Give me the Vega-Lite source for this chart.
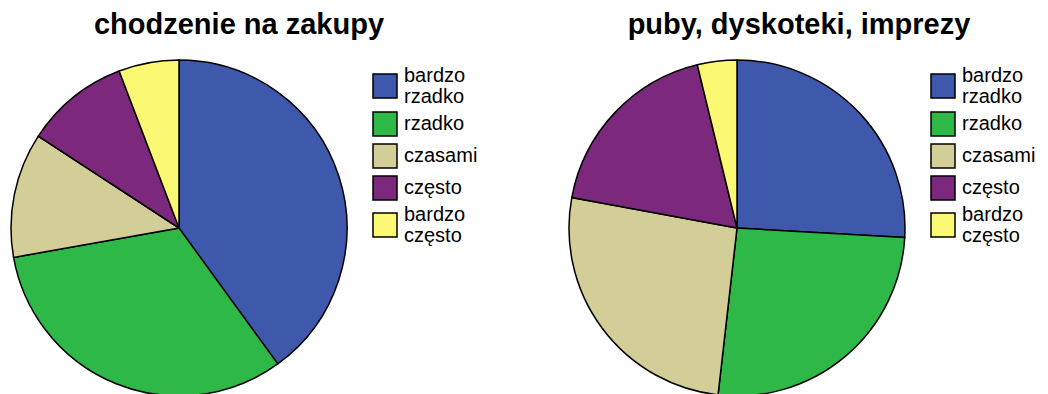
{
  "$schema": "https://vega.github.io/schema/vega-lite/v6.json",
  "background": "white",
  "padding": {"left": 8, "top": 11, "right": 0, "bottom": 0},
  "autosize": {"type": "pad"},
  "datasets": {
    "zakupy": [
      {"odpowiedz": "bardzo rzadko", "kolejnosc": 1, "procent": 40.0},
      {"odpowiedz": "rzadko", "kolejnosc": 2, "procent": 32.2},
      {"odpowiedz": "czasami", "kolejnosc": 3, "procent": 12.0},
      {"odpowiedz": "często", "kolejnosc": 4, "procent": 10.0},
      {"odpowiedz": "bardzo często", "kolejnosc": 5, "procent": 5.8}
    ],
    "puby": [
      {"odpowiedz": "bardzo rzadko", "kolejnosc": 1, "procent": 25.9},
      {"odpowiedz": "rzadko", "kolejnosc": 2, "procent": 25.9},
      {"odpowiedz": "czasami", "kolejnosc": 3, "procent": 26.1},
      {"odpowiedz": "często", "kolejnosc": 4, "procent": 18.3},
      {"odpowiedz": "bardzo często", "kolejnosc": 5, "procent": 3.8}
    ]
  },
  "hconcat": [
    {
      "title": {"text": "chodzenie na zakupy", "dx": -4},
      "data": {"name": "zakupy"},
      "width": 336,
      "height": 336,
      "mark": {"type": "arc", "stroke": "black", "strokeWidth": 1.5},
      "encoding": {
        "theta": {"field": "procent", "type": "quantitative", "stack": true},
        "order": {"field": "kolejnosc", "type": "quantitative"},
        "color": {
          "field": "odpowiedz",
          "type": "nominal",
          "scale": {
            "domain": ["bardzo rzadko", "rzadko", "czasami", "często", "bardzo często"],
            "range": ["#3E58AC", "#2EB848", "#D3CE97", "#7C287D", "#FBF873"]
          },
          "legend": {
            "orient": "none", "legendX": 361, "legendY": 13,
            "labelExpr": "split(datum.label, ' ')",
            "encode": {"labels": {"update": {
              "lineHeight": {"value": 21},
              "dy": {"signal": "indexof(datum.value, ' ') >= 0 ? -10 : 0"}
            }}}
          }
        }
      }
    },
    {
      "title": {"text": "puby, dyskoteki, imprezy", "dx": -2},
      "data": {"name": "puby"},
      "width": 336,
      "height": 336,
      "mark": {"type": "arc", "stroke": "black", "strokeWidth": 1.5},
      "encoding": {
        "theta": {"field": "procent", "type": "quantitative", "stack": true},
        "order": {"field": "kolejnosc", "type": "quantitative"},
        "color": {
          "field": "odpowiedz",
          "type": "nominal",
          "scale": {
            "domain": ["bardzo rzadko", "rzadko", "czasami", "często", "bardzo często"],
            "range": ["#3E58AC", "#2EB848", "#D3CE97", "#7C287D", "#FBF873"]
          },
          "legend": {
            "orient": "none", "legendX": 361, "legendY": 13,
            "labelExpr": "split(datum.label, ' ')",
            "encode": {"labels": {"update": {
              "lineHeight": {"value": 21},
              "dy": {"signal": "indexof(datum.value, ' ') >= 0 ? -10 : 0"}
            }}}
          }
        }
      }
    }
  ],
  "spacing": 88,
  "resolve": {"scale": {"color": "independent"}, "legend": {"color": "independent"}},
  "config": {
    "view": {"stroke": null},
    "title": {
      "font": "Liberation Sans",
      "fontSize": 29,
      "fontWeight": "bold",
      "color": "black",
      "anchor": "middle",
      "frame": "bounds",
      "baseline": "alphabetic",
      "offset": 17
    },
    "legend": {
      "title": null,
      "direction": "vertical",
      "symbolType": "square",
      "symbolSize": 576,
      "symbolStrokeColor": "black",
      "symbolStrokeWidth": 1.5,
      "symbolOpacity": 1,
      "labelFont": "Liberation Sans",
      "labelFontSize": 20,
      "labelColor": "black",
      "labelOffset": 6,
      "labelLimit": 200,
      "rowPadding": 2,
      "padding": 0
    }
  }
}
